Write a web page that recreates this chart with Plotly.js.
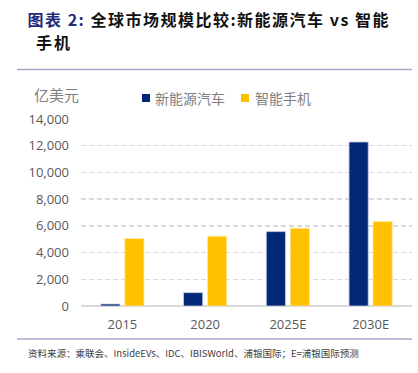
<!DOCTYPE html>
<html>
<head>
<meta charset="utf-8">
<script src="https://cdn.plot.ly/plotly-3.0.1.min.js"></script>
<style>
html,body{margin:0;padding:0;background:#fff;}
#chart{width:418px;height:373px;}
g.annotation[data-index="0"] text{letter-spacing:1.5px;}
g.annotation[data-index="1"] text{letter-spacing:2px;}
</style>
</head>
<body>
<div id="chart"></div>
<script>
// ---- data ----
const categories = ['2015', '2020', '2025E', '2030E'];
const nevValues = [150, 1000, 5570, 12280];      // 新能源汽车
const phoneValues = [5050, 5220, 5820, 6320];    // 智能手机
const seriesNames = ['新能源汽车', '智能手机'];
const yTicks = [0, 2000, 4000, 6000, 8000, 10000, 12000, 14000];
const titleLine1 = '<span style="color:#1F2A7A">图表 2:</span> 全球市场规模比较:新能源汽车 vs 智能';
const titleLine2 = '手机';
const unitLabel = '亿美元';
const sourceText = '资料来源：乘联会、InsideEVs、IDC、IBISWorld、浦银国际；E=浦银国际预测';

// ---- layout helpers (pixel -> paper) ----
const L = 81, R = 6, T = 119, B = 67, W = 418, H = 373;
const PW = W - L - R, PH = H - T - B;
const px = v => (v - L) / PW;
const py = v => (H - B - v) / PH;

const navy = '#002876', gold = '#FFC000';
const cjk = '"Noto Sans CJK SC", "Open Sans", sans-serif';
const num = '"Open Sans", "Noto Sans", sans-serif';

const traces = [
  {type: 'bar', name: seriesNames[0], x: categories, y: nevValues,
   marker: {color: navy, line: {color: '#C9CFE3', width: 0.8}}, showlegend: false},
  {type: 'bar', name: seriesNames[1], x: categories, y: phoneValues,
   marker: {color: gold, line: {color: '#FFE9A6', width: 0.8}}, showlegend: false}
];

const layout = {
  width: W, height: H,
  margin: {l: L, r: R, t: T, b: B, pad: 0},
  paper_bgcolor: '#fff', plot_bgcolor: '#fff',
  barmode: 'group', bargap: 0.42, bargroupgap: 0.2,
  showlegend: false,
  xaxis: {
    type: 'category', showgrid: false, showline: false, zeroline: false,
    ticks: '', ticklabelstandoff: 9,
    tickfont: {family: num, size: 13, color: '#595959'}
  },
  yaxis: {
    range: [0, 14000], tickvals: yTicks, tickformat: ',d',
    showgrid: true, gridcolor: '#D9D9D9', gridwidth: 1.5, griddash: '5px,3px',
    zeroline: true, zerolinecolor: '#D9D9D9', zerolinewidth: 1.5,
    showline: false, ticks: '', ticklabelstandoff: 11,
    tickfont: {family: num, size: 13, color: '#595959'}
  },
  shapes: [
    {type: 'line', xref: 'paper', yref: 'paper', x0: px(17), x1: px(412), y0: py(69.5), y1: py(69.5),
     line: {color: '#A7A7CB', width: 1.5}},
    {type: 'line', xref: 'paper', yref: 'paper', x0: px(17), x1: px(412), y0: py(339), y1: py(339),
     line: {color: '#A7A7CB', width: 1.5}},
    {type: 'rect', xref: 'paper', yref: 'paper', x0: px(142), x1: px(150), y0: py(102), y1: py(94),
     fillcolor: navy, line: {width: 0}},
    {type: 'rect', xref: 'paper', yref: 'paper', x0: px(241), x1: px(249), y0: py(102), y1: py(94),
     fillcolor: gold, line: {width: 0}}
  ],
  annotations: [
    {xref: 'paper', yref: 'paper', x: px(45), y: py(19), xanchor: 'left', yanchor: 'middle', showarrow: false,
     text: '<b>' + titleLine1 + '</b>', font: {family: cjk, size: 16, color: '#111'}},
    {xref: 'paper', yref: 'paper', x: px(36), y: py(42), xanchor: 'left', yanchor: 'middle', showarrow: false,
     text: '<b>' + titleLine2 + '</b>', font: {family: cjk, size: 16, color: '#111'}},
    {xref: 'paper', yref: 'paper', x: px(32), y: py(95), xanchor: 'left', yanchor: 'middle', showarrow: false,
     text: unitLabel, font: {family: cjk, size: 15, color: '#7F7F7F'}},
    {xref: 'paper', yref: 'paper', x: px(153), y: py(98), xanchor: 'left', yanchor: 'middle', showarrow: false,
     text: seriesNames[0], font: {family: cjk, size: 14, color: '#7F7F7F'}},
    {xref: 'paper', yref: 'paper', x: px(253), y: py(98), xanchor: 'left', yanchor: 'middle', showarrow: false,
     text: seriesNames[1], font: {family: cjk, size: 14, color: '#7F7F7F'}},
    {xref: 'paper', yref: 'paper', x: px(26), y: py(353), xanchor: 'left', yanchor: 'middle', showarrow: false,
     text: sourceText, font: {family: cjk, size: 9.5, color: '#404040'}}
  ]
};

Plotly.newPlot('chart', traces, layout, {displayModeBar: false, staticPlot: true});
</script>
</body>
</html>
